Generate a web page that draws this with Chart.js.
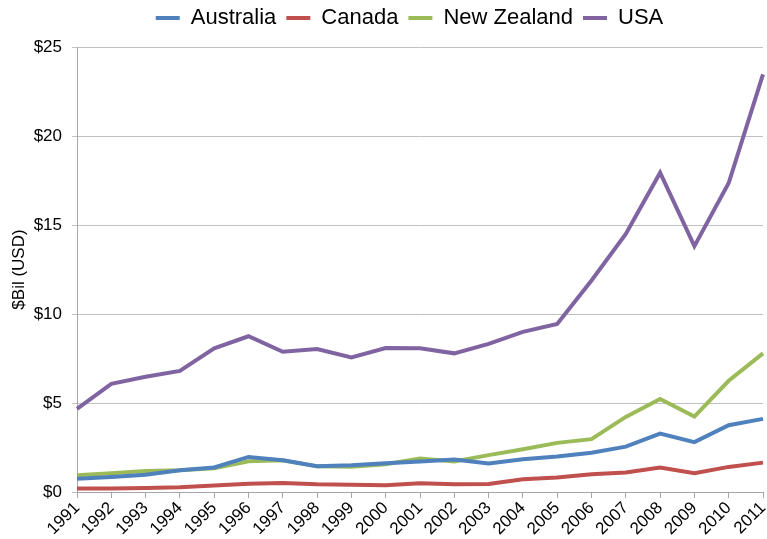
<html>
<head>
    <title>$Bil (USD)</title>
    <style>
        body {
            background-color: #ffffff;
            margin: 0;
            padding: 0;
        }
        .wrap {
            width: 767px;
            height: 539px;
        }
    </style>
</head>
<body>
    <div class="wrap">
        <canvas id="chart"></canvas>
    </div>
    <script src="https://cdn.jsdelivr.net/npm/chart.js"></script>
    <script>
        const years = ['1991', '1992', '1993', '1994', '1995', '1996', '1997', '1998', '1999', '2000',
            '2001', '2002', '2003', '2004', '2005', '2006', '2007', '2008', '2009', '2010', '2011'];
        const australia = [0.75, 0.84, 0.97, 1.22, 1.38, 1.97, 1.78, 1.45, 1.5, 1.62,
            1.71, 1.82, 1.6, 1.84, 1.99, 2.21, 2.55, 3.28, 2.8, 3.75, 4.11];
        const canada = [0.19, 0.2, 0.22, 0.26, 0.36, 0.47, 0.51, 0.43, 0.41, 0.38,
            0.49, 0.43, 0.45, 0.71, 0.81, 1.0, 1.09, 1.37, 1.05, 1.41, 1.65];
        const newZealand = [0.94, 1.05, 1.18, 1.22, 1.33, 1.73, 1.78, 1.44, 1.42, 1.56,
            1.88, 1.71, 2.07, 2.4, 2.76, 2.97, 4.22, 5.22, 4.24, 6.25, 7.79];
        const usa = [4.67, 6.08, 6.47, 6.8, 8.07, 8.75, 7.88, 8.03, 7.56, 8.09,
            8.07, 7.79, 8.32, 9.0, 9.44, 11.88, 14.5, 17.94, 13.81, 17.36, 23.46];
        const yTicks = [0, 5, 10, 15, 20, 25];

        Chart.defaults.font.family = '"Liberation Sans", Arial, sans-serif';
        Chart.defaults.color = '#000000';

        function series(label, data, color) {
            return {
                label: label,
                data: data,
                borderColor: color,
                backgroundColor: color,
                borderWidth: 4,
                pointRadius: 0,
                tension: 0,
                fill: false
            };
        }

        // legend sits a bit right of the canvas centre (and a bit higher) in the original
        const legendShift = {
            id: 'legendShift',
            afterLayout(chart) {
                chart.legend.left += 28;
                chart.legend.right += 28;
                chart.legend.top -= 8;
                chart.legend.bottom -= 8;
            }
        };

        const ctx = document.getElementById('chart').getContext('2d');
        const chart = new Chart(ctx, {
            type: 'line',
            data: {
                labels: years,
                datasets: [
                    series('Australia', australia, '#4f81bd'),
                    series('Canada', canada, '#c0504d'),
                    series('New Zealand', newZealand, '#9bbb59'),
                    series('USA', usa, '#8064a2')
                ]
            },
            plugins: [legendShift],
            options: {
                responsive: true,
                maintainAspectRatio: false,
                animation: false,
                layout: {
                    padding: { left: 0, right: 4, top: 0, bottom: 0 }
                },
                scales: {
                    x: {
                        offset: false,
                        afterFit: (axis) => {
                            axis.height = 47;
                            axis.paddingRight = 0;
                        },
                        grid: {
                            display: true,
                            drawOnChartArea: false,
                            drawTicks: true,
                            tickLength: 6,
                            color: '#a6a6a6'
                        },
                        border: { color: '#a6a6a6', width: 1 },
                        ticks: {
                            maxRotation: 45,
                            minRotation: 45,
                            autoSkip: false,
                            padding: 0,
                            font: { size: 17 }
                        }
                    },
                    y: {
                        min: 0,
                        max: 25,
                        afterFit: (axis) => {
                            axis.width = 77;
                            axis.paddingTop = 47;
                        },
                        afterBuildTicks: (axis) => {
                            axis.ticks = yTicks.map(v => ({ value: v }));
                        },
                        grid: {
                            color: '#c0c0c0',
                            tickLength: 5,
                            lineWidth: 1
                        },
                        border: { color: '#a6a6a6', width: 1 },
                        ticks: {
                            callback: (v) => '$' + v,
                            padding: 10,
                            font: { size: 17 }
                        },
                        title: {
                            display: true,
                            text: '$Bil (USD)',
                            font: { size: 17 },
                            padding: { top: 9, bottom: 0 }
                        }
                    }
                },
                plugins: {
                    legend: {
                        display: true,
                        position: 'top',
                        labels: {
                            usePointStyle: true,
                            pointStyle: 'line',
                            pointStyleWidth: 24,
                            boxHeight: 4,
                            padding: 10,
                            font: { size: 22 }
                        }
                    },
                    tooltip: { enabled: false }
                }
            }
        });
    </script>
</body>
</html>
